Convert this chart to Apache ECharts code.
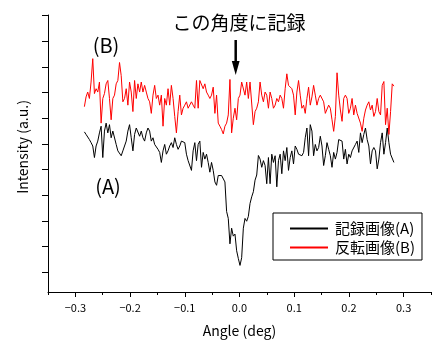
<!DOCTYPE html>
<html><head><meta charset="utf-8">
<script src="https://cdn.jsdelivr.net/npm/echarts@6/dist/echarts.min.js"></script>
<style>html,body{margin:0;padding:0;background:#fff}#c{width:434px;height:343px}</style>
</head><body><div id="c"></div>
<script>
// Sampling of the angle scan (deg)
const angleStart = -0.2835;
const angleStep = 0.003058;
// Tick labels of the angle axis
const xTickLabels = [-0.3, -0.2, -0.1, 0.0, 0.1, 0.2, 0.3];
// Intensity tick positions (a.u.)
const yTicks = [1, 2, 3, 4, 5, 6, 7, 8, 9, 10, 11];
const seriesNames = ['記録画像(A)', '反転画像(B)'];
const seriesColors = ['#000000', '#ff0000'];
// 記録画像(A)
const recorded = [
6.47,6.37,6.30,6.17,6.05,5.92,5.47,5.92,6.11,6.43,6.69,5.47,6.50,6.81,6.43,6.75,6.24,6.50,6.43,5.98,
5.73,5.67,5.54,5.73,5.79,6.11,6.50,6.75,6.24,5.73,6.37,6.62,6.69,6.30,6.50,6.24,6.11,6.43,6.62,6.50,
6.11,6.24,5.98,5.92,5.79,5.67,5.28,5.73,5.98,5.60,5.73,5.92,6.05,5.86,6.24,5.98,5.79,5.92,6.11,6.17,
6.05,5.60,5.35,5.41,
4.97,5.73,6.05,5.35,5.98,6.11,5.09,5.67,5.41,5.60,5.28,4.90,5.28,4.97,4.52,4.39,4.77,4.84,4.77,4.71,
4.52,3.37,3.10,2.11,2.72,2.41,2.49,1.84,1.54,1.27,1.57,2.72,3.10,2.99,3.18,3.68,3.94,4.14,4.59,4.79,5.55,
5.41,5.09,5.35,5.16,4.45,5.47,4.45,5.60,5.28,5.54,4.33,5.35,5.60,4.84,5.73,5.35,5.86,4.97,5.47,5.73,5.22,
5.92,5.79,5.60,5.60,5.54,5.67,6.24,6.62,5.54,6.75,6.50,5.54,5.98,5.73,5.86,6.30,5.92,5.16,5.54,6.05,
5.79,5.54,5.09,5.67,5.41,5.67,6.17,6.24,6.11,5.41,5.79,5.22,5.60,5.47,5.73,5.67,5.98,6.11,5.67,6.43,
6.05,6.37,6.62,6.17,5.92,5.22,5.73,5.86,5.73,5.03,5.41,6.05,6.43,5.60,6.05,6.62,6.05,5.60,5.54,5.28
];
// 反転画像(B)
const inverted = [
7.45,7.83,8.02,7.77,8.41,9.32,7.96,8.15,8.02,8.41,6.81,7.77,7.96,8.34,8.47,7.77,6.94,7.77,7.90,8.34,
8.47,9.17,8.66,7.64,7.77,8.15,7.51,8.41,8.02,7.26,8.47,7.77,8.34,8.02,8.41,8.02,8.28,8.02,7.77,7.64,
7.19,7.90,8.28,7.77,7.90,7.51,7.90,6.69,7.77,7.51,8.15,7.51,8.28,7.77,7.07,6.43,7.26,7.90,7.13,7.39,
7.51,7.64,7.39,7.39,7.64,7.51,7.39,8.47,7.39,8.47,
8.47,8.15,8.34,8.02,7.90,7.77,7.90,8.21,7.19,7.90,6.81,6.69,6.56,6.39,6.69,6.81,7.13,8.51,6.43,7.00,
7.39,6.94,7.77,7.90,8.41,8.47,7.90,8.41,7.77,8.41,8.47,6.75,7.26,7.39,7.64,8.41,7.90,7.64,8.02,7.90,
7.39,8.02,7.77,7.39,7.51,7.77,7.64,7.90,7.77,7.39,8.15,8.73,8.28,8.34,8.15,7.90,7.13,8.02,8.47,7.90,
7.39,7.51,7.19,7.77,8.21,7.51,7.83,8.28,7.90,7.51,7.77,7.90,7.96,7.64,7.19,7.26,7.51,7.39,6.94,6.49,
7.07,8.77,7.90,7.32,6.88,7.77,7.90,7.77,7.19,7.39,7.77,7.13,7.51,7.19,7.13,6.81,6.49,7.00,7.32,7.51,
7.64,7.32,7.51,7.07,7.26,7.77,7.26,7.13,8.28,8.43,6.75,7.39,6.37,7.26,8.34,8.25
];

const FONT = '"Noto Sans CJK JP", "Noto Sans", sans-serif';
const toPairs = arr => arr.map((v, i) => [angleStart + i * angleStep, v]);
const fmtX = v => {
  const r = Math.round(v * 100);
  if (r % 10 !== 0) return '';
  const s = Math.abs(v).toFixed(1);
  return (r < 0 ? '\u2212' : '') + s;
};

const chart = echarts.init(document.getElementById('c'), null, {renderer: 'canvas'});
chart.setOption({
  animation: false,
  backgroundColor: '#fff',
  grid: {left: 48, right: 3, top: 15, bottom: 46},
  xAxis: [{
    type: 'value', min: -0.35, max: 0.35, interval: 0.05,
    name: 'Angle (deg)', nameLocation: 'middle', nameGap: 32,
    nameTextStyle: {fontFamily: FONT, fontSize: 14, color: '#000'},
    axisLine: {onZero: false, lineStyle: {color: '#000', width: 1}},
    axisTick: {length: 3, lineStyle: {color: '#000'}},
    axisLabel: {formatter: fmtX, fontFamily: FONT, fontSize: 11, color: '#000', margin: 10,
      showMinLabel: true, showMaxLabel: true},
    splitLine: {show: false}
  }, {
    type: 'value', min: -0.35, max: 0.35, position: 'bottom',
    axisLine: {show: false, onZero: false},
    axisTick: {show: true, length: 5, customValues: xTickLabels, lineStyle: {color: '#000'}},
    axisLabel: {show: false},
    splitLine: {show: false}
  }],
  yAxis: {
    type: 'value', min: 0.235, max: 11.02,
    axisLine: {show: true, onZero: false, lineStyle: {color: '#000', width: 1}},
    axisTick: {show: true, length: 6, customValues: yTicks, lineStyle: {color: '#000'}},
    axisLabel: {show: false},
    splitLine: {show: false}
  },
  legend: {
    data: seriesNames.map((n, i) => ({name: n,
      itemStyle: {color: seriesColors[i], borderColor: seriesColors[i], borderWidth: 0}})),
    orient: 'vertical', left: 273, top: 213,
    icon: 'rect',
    padding: [8, 7, 5, 17], itemGap: 4, itemWidth: 38, itemHeight: 2,
    borderColor: '#000', borderWidth: 1, borderRadius: 0, backgroundColor: '#fff',
    textStyle: {fontFamily: FONT, fontSize: 15, color: '#000', lineHeight: 15, padding: [0, 0, 0, 2]}
  },
  series: seriesNames.map((n, i) => ({
    name: n, type: 'line', data: toPairs(i === 0 ? recorded : inverted), symbol: 'none',
    color: seriesColors[i],
    lineStyle: {color: seriesColors[i], width: 1}, itemStyle: {color: seriesColors[i]}
  })),
  graphic: [
    {type: 'text', x: 239, y: 23, style: {text: 'この角度に記録', fontFamily: FONT, fontSize: 19,
      fill: '#000', align: 'center', verticalAlign: 'middle'}},
    {type: 'line', shape: {x1: 235.7, y1: 40, x2: 235.7, y2: 64}, style: {stroke: '#000', lineWidth: 2.5}},
    {type: 'polygon', shape: {points: [[231.8, 61], [239.6, 61], [235.7, 75]]}, style: {fill: '#000'}},
    {type: 'text', x: 106, y: 45, style: {text: '(B)', fontFamily: FONT, fontSize: 20,
      fill: '#000', align: 'center', verticalAlign: 'middle'}},
    {type: 'text', x: 108, y: 186, style: {text: '(A)', fontFamily: FONT, fontSize: 20,
      fill: '#000', align: 'center', verticalAlign: 'middle'}},
    {type: 'text', x: 23, y: 147, rotation: Math.PI / 2, style: {text: 'Intensity (a.u.)',
      fontFamily: FONT, fontSize: 14, fill: '#000', align: 'center', verticalAlign: 'middle'}}
  ]
});
</script></body></html>
